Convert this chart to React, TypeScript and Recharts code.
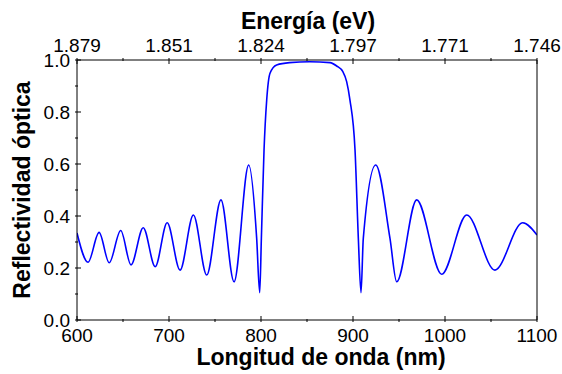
import { LineChart, Line, XAxis, YAxis, ReferenceLine } from "recharts";

// wavelength (nm) and optical reflectivity
const wavelength = [
  600, 612, 624, 635, 647.5, 658.7, 672, 685, 698, 712, 726.5, 741, 756.5, 770.7,
  786.6, 795.3, 798.6, 800.4, 803.3, 806.2, 809.8, 817, 831, 853, 875, 882.3, 889,
  893.1, 896.7, 902.2, 905.8, 908.7, 911.2, 924.7, 940.2, 947.5, 969.2, 996.4,
  1023.6, 1054.3, 1084.4, 1100,
];
const reflectivity = [
  0.335, 0.222, 0.337, 0.22, 0.344, 0.212, 0.355, 0.205, 0.374, 0.192, 0.404, 0.173,
  0.462, 0.147, 0.596, 0.314, 0.105, 0.314, 0.654, 0.846, 0.949, 0.981, 0.99, 0.993,
  0.99, 0.977, 0.955, 0.917, 0.846, 0.654, 0.314, 0.105, 0.314, 0.596, 0.314, 0.147,
  0.462, 0.176, 0.404, 0.192, 0.374, 0.327,
];

const xTicks = [600, 650, 700, 750, 800, 850, 900, 950, 1000, 1050, 1100];
const energyLabels = ["1.879", "1.851", "1.824", "1.797", "1.771", "1.746"];
const yTicks = [0, 0.1, 0.2, 0.3, 0.4, 0.5, 0.6, 0.7, 0.8, 0.9, 1.0];
const meanLevel = 0.314;

const data = wavelength.map((wl, i) => ({ wl, r: reflectivity[i] }));

const font = "'Liberation Sans', Arial, sans-serif";

function BottomTick({ x, y, payload }: any) {
  const v = payload.value;
  const major = v % 100 === 0;
  return (
    <g>
      <line x1={x} y1={y} x2={x} y2={y - (major ? 6 : 3)} stroke="#000" />
      {major && (
        <text x={x} y={y + 20} textAnchor="middle" fontSize={19} fontFamily={font} fill="#000">
          {v}
        </text>
      )}
    </g>
  );
}

function TopTick({ x, y, payload }: any) {
  const v = payload.value;
  const major = v % 100 === 0;
  return (
    <g>
      <line x1={x} y1={y} x2={x} y2={y + (major ? 6 : 3)} stroke="#000" />
      {major && (
        <text x={x} y={y - 6} textAnchor="middle" fontSize={19} fontFamily={font} fill="#000">
          {energyLabels[(v - 600) / 100]}
        </text>
      )}
    </g>
  );
}

function LeftTick({ x, y, payload }: any) {
  const v = payload.value;
  const major = Math.round(v * 10) % 2 === 0;
  return (
    <g>
      <line x1={x} y1={y} x2={x + (major ? 6 : 3)} y2={y} stroke="#000" />
      {major && (
        <text x={x - 5} y={y + 7} textAnchor="end" fontSize={19} fontFamily={font} fill="#000">
          {v.toFixed(1)}
        </text>
      )}
    </g>
  );
}

export default function App() {
  return (
    <div style={{ position: "absolute", left: 0, top: 0, width: 562, height: 374, background: "#fff" }}>
      <LineChart width={562} height={374} data={data} margin={{ top: 0, right: 24, bottom: 0, left: 0 }}>
        <XAxis
          dataKey="wl"
          type="number"
          domain={[600, 1100]}
          ticks={xTicks}
          interval={0}
          height={54}
          tickSize={0}
          tickLine={false}
          tick={BottomTick}
          stroke="#000"
          allowDataOverflow
        />
        <XAxis
          xAxisId="top"
          dataKey="wl"
          type="number"
          orientation="top"
          domain={[600, 1100]}
          ticks={xTicks}
          interval={0}
          height={60}
          tickSize={0}
          tickLine={false}
          tick={TopTick}
          stroke="#000"
          allowDataOverflow
        />
        <YAxis
          type="number"
          domain={[0, 1]}
          ticks={yTicks}
          interval={0}
          width={77}
          tickSize={0}
          tickLine={false}
          tick={LeftTick}
          stroke="#000"
          allowDataOverflow
        />
        <YAxis
          yAxisId="right"
          orientation="right"
          type="number"
          domain={[0, 1]}
          width={1}
          tick={false}
          tickLine={false}
          stroke="#000"
        />
        <ReferenceLine
          y={meanLevel}
          xAxisId="top"
          yAxisId="right"
          stroke="#8a8a8a"
          strokeDasharray="1 1"
          strokeWidth={1}
        />
        <Line
          dataKey="r"
          type="monotone"
          stroke="#0000ff"
          strokeWidth={1.6}
          dot={false}
          isAnimationActive={false}
        />
        <text x={308} y={29} textAnchor="middle" fontSize={23} fontWeight="bold" fontFamily={font} fill="#000">
          Energía (eV)
        </text>
        <text x={321} y={365} textAnchor="middle" fontSize={23} fontWeight="bold" fontFamily={font} fill="#000">
          Longitud de onda (nm)
        </text>
        <text
          x={30}
          y={190}
          transform="rotate(-90 30 190)"
          textAnchor="middle"
          fontSize={23}
          fontWeight="bold"
          fontFamily={font}
          fill="#000"
        >
          Reflectividad óptica
        </text>
      </LineChart>
    </div>
  );
}
